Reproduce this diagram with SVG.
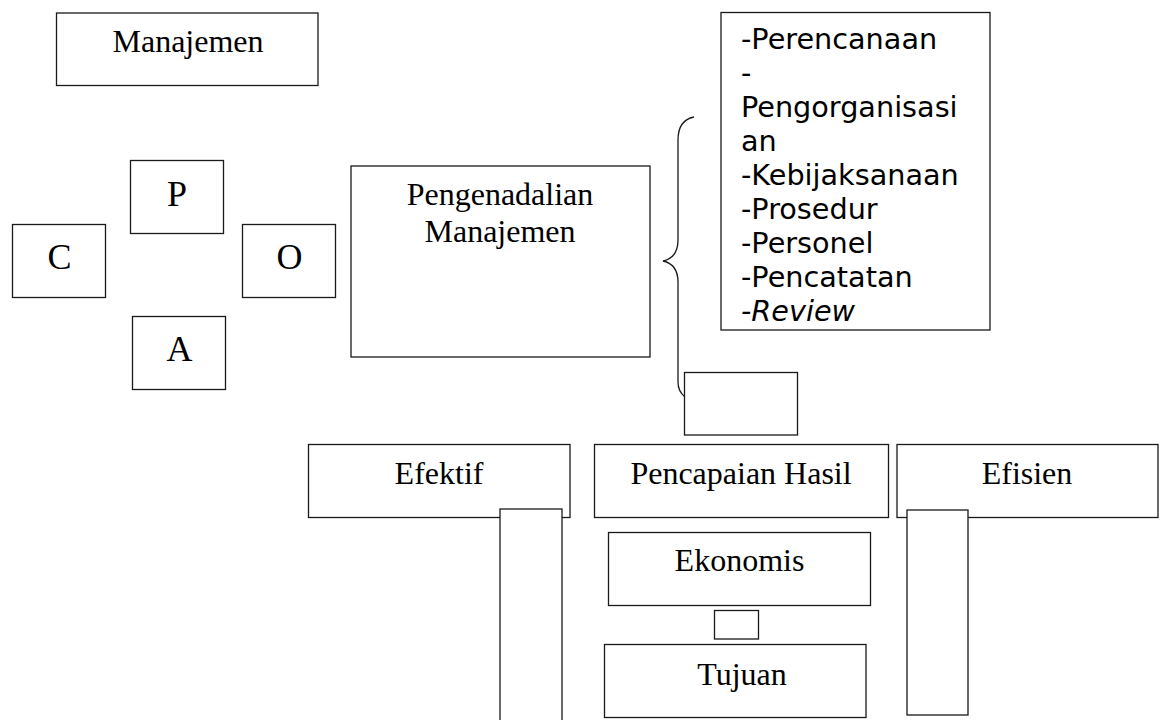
<svg xmlns="http://www.w3.org/2000/svg" width="1160" height="720" viewBox="0 0 1160 720">
<style>
.box{fill:#fff;stroke:#1a1a1a;stroke-width:1.3}
.t{font-family:"Liberation Serif","Times New Roman",serif;font-size:32px;fill:#000;text-anchor:middle}
.l{font-size:36px}
.s{font-family:"DejaVu Sans",sans-serif;font-size:28.7px;fill:#000}
.conn{fill:none;stroke:#1a1a1a;stroke-width:1.3}
</style>
<rect width="1160" height="720" fill="#fff"/>
<g id="manajemen"><rect class="box" x="56.5" y="13" width="261.5" height="72.5"/><text class="t" x="188" y="52">Manajemen</text></g>
<g id="p"><rect class="box" x="130.5" y="160.5" width="93" height="73"/><text class="t l" x="177" y="205.5">P</text></g>
<g id="c"><rect class="box" x="12.5" y="224.5" width="93" height="73"/><text class="t l" x="59.5" y="269">C</text></g>
<g id="o"><rect class="box" x="242.5" y="224.5" width="93" height="73"/><text class="t l" x="289.5" y="269">O</text></g>
<g id="a"><rect class="box" x="132.5" y="316.5" width="93" height="73"/><text class="t l" x="179.5" y="360.5">A</text></g>
<g id="pengendalian"><rect class="box" x="351" y="166" width="299" height="191"/><text class="t" x="500" y="205">Pengenadalian</text><text class="t" x="500" y="241.5">Manajemen</text></g>
<g id="list"><rect class="box" x="721" y="12.5" width="269" height="317.5"/>
<text class="s" x="741" y="49">-Perencanaan</text>
<text class="s" x="741" y="83">-</text>
<text class="s" x="741" y="117">Pengorganisasi</text>
<text class="s" x="741" y="151">an</text>
<text class="s" x="741" y="185">-Kebijaksanaan</text>
<text class="s" x="741" y="219">-Prosedur</text>
<text class="s" x="741" y="253">-Personel</text>
<text class="s" x="741" y="287">-Pencatatan</text>
<text class="s" x="741" y="321" font-style="italic">-Review</text>
</g>
<g id="connectors"><path class="conn" d="M694 117 C684 119 678 127 678 140 L678 240 C678 252 672 259 663 261 C672 263 678 270 678 282 L678 382 C678 388 680 393 685 397"/></g>
<g id="small-box"><rect class="box" x="684.5" y="372.5" width="113" height="62.5"/></g>
<g id="efektif"><rect class="box" x="308.5" y="444.5" width="261.5" height="73"/><text class="t" x="439" y="484">Efektif</text></g>
<g id="pencapaian"><rect class="box" x="594.5" y="444.5" width="294" height="73"/><text class="t" x="741" y="484">Pencapaian Hasil</text></g>
<g id="efisien"><rect class="box" x="897" y="444.5" width="261" height="73"/><text class="t" x="1027" y="484">Efisien</text></g>
<g id="bar-left"><rect class="box" x="500" y="509" width="62" height="220"/></g>
<g id="bar-right"><rect class="box" x="907" y="510" width="61" height="205"/></g>
<g id="ekonomis"><rect class="box" x="608.5" y="532.5" width="262" height="73"/><text class="t" x="739.5" y="571">Ekonomis</text></g>
<g id="link-box"><rect class="box" x="714.5" y="610.5" width="44" height="28.5"/></g>
<g id="tujuan"><rect class="box" x="604.5" y="644.5" width="261.5" height="73"/><text class="t" x="742" y="685">Tujuan</text></g>
</svg>
